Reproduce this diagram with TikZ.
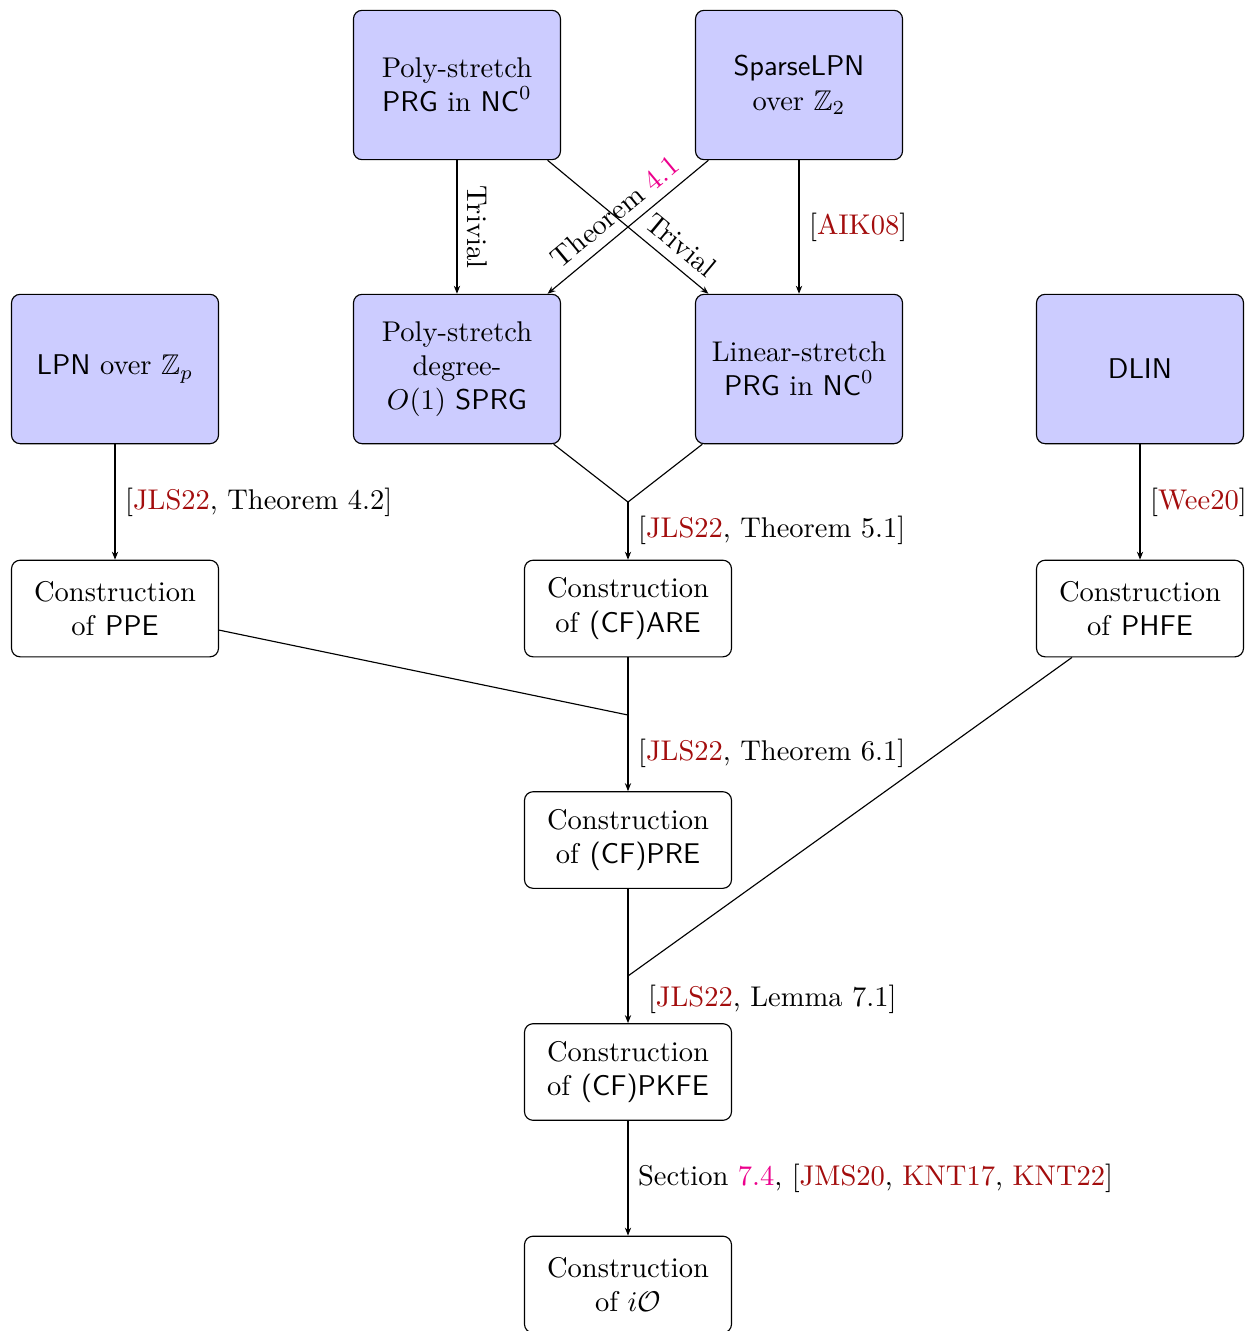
\documentclass[tikz,border=0pt]{standalone}
\usepackage{amsmath, amssymb}
\usepackage{xcolor}
\usetikzlibrary{arrows.meta}
\usetikzlibrary{calc}

\definecolor{citecol}{HTML}{A30D0D}
\definecolor{refcol}{HTML}{EC008C}
\newcommand{\cit}[1]{\textcolor{citecol}{#1}}
\newcommand{\rref}[1]{\textcolor{refcol}{#1}}

\begin{document}
\begin{tikzpicture}
        \tikzset{>={Stealth[length=2.8pt,width=2.2pt]}}
        \tikzstyle{assumption}=[rectangle,rounded corners=3pt,fill=blue!20,draw=black,text=black,align=center,minimum width=2.55cm,minimum height=1.84cm,inner sep=1.5pt]
        \tikzstyle{construction}=[rectangle,rounded corners=3pt,fill=white,draw=black,text=black,align=center,minimum width=2.55cm,minimum height=1.19cm,inner sep=1.5pt]

        \useasboundingbox (0cm,0cm) rectangle (15.412cm,-16.398cm);

        % assumptions
        \node [assumption] (n0) at (5.630cm,-1.047cm) {Poly-stretch\\ \textsf{PRG} in $\mathsf{NC}^0$};
        \node [assumption] (n1) at (9.844cm,-1.047cm) {\textsf{SparseLPN}\\ over $\mathbb{Z}_2$};
        \node [assumption] (n2) at (1.417cm,-4.546cm) {\textsf{LPN} over $\mathbb{Z}_p$};
        \node [assumption] (n3) at (5.630cm,-4.546cm) {Poly-stretch\\ degree-\\ $O(1)$ \textsf{SPRG}};
        \node [assumption] (n4) at (9.844cm,-4.546cm) {Linear-stretch\\ \textsf{PRG} in $\mathsf{NC}^0$};
        \node [assumption] (n5) at (14.045cm,-4.546cm) {\textsf{DLIN}};

        % constructions
        \node [construction] (n6) at (1.417cm,-7.497cm) {Construction\\ of \textsf{PPE}};
        \node [construction] (n7) at (7.737cm,-7.497cm) {Construction\\ of \textsf{(CF)ARE}};
        \node [construction] (n8) at (14.045cm,-7.497cm) {Construction\\ of \textsf{PHFE}};
        \node [construction] (n9) at (7.737cm,-10.349cm) {Construction\\ of \textsf{(CF)PRE}};
        \node [construction] (n10) at (7.737cm,-13.207cm) {Construction\\ of \textsf{(CF)PKFE}};
        \node [construction] (n11) at (7.737cm,-15.825cm) {Construction\\ of $i\mathcal{O}$};

        % joins
        \coordinate (j1) at (7.737cm,-6.185cm);
        \coordinate (j2) at (7.737cm,-8.809cm);
        \coordinate (j3) at (7.737cm,-12.024cm);

        \draw [->] (n0) to node [midway,sloped,above] (l0) {Trivial} (n3);
        \draw [->] (n0) to node [pos=0.75,sloped,above] (l1) {Trivial} (n4);
        \draw [->] (n1) to node [midway,sloped,above] (l2) {Theorem \rref{4.1}} (n3);
        \draw [->] (n1) to node [midway,right] (l3) {[\cit{AIK08}]} (n4);

        \draw [->] (n2) to node [midway,right] (l4) {[\cit{JLS22}, Theorem 4.2]} (n6);
        \draw (n3) to (j1);
        \draw (n4) to (j1);
        \draw [->] (j1) to node [midway,right] (l5) {[\cit{JLS22}, Theorem 5.1]} (n7);
        \draw [->] (n5) to node [midway,right] (l6) {[\cit{Wee20}]} (n8);

        \draw (n6) to (j2);
        \draw (n7) to (j2);
        \draw [->] (j2) to node [midway,right] (l7) {[\cit{JLS22}, Theorem 6.1]} (n9);

        \draw (n8) to (j3);
        \draw (n9) to (j3);
        \draw [->] (j3) to node [midway,right,xshift=3.5pt] (l8) {[\cit{JLS22}, Lemma 7.1]} (n10);

        \draw [->] (n10) to node [midway,right] (l9) {Section \rref{7.4}, [\cit{JMS20}, \cit{KNT17}, \cit{KNT22}]} (n11);
    \end{tikzpicture}
\end{document}
